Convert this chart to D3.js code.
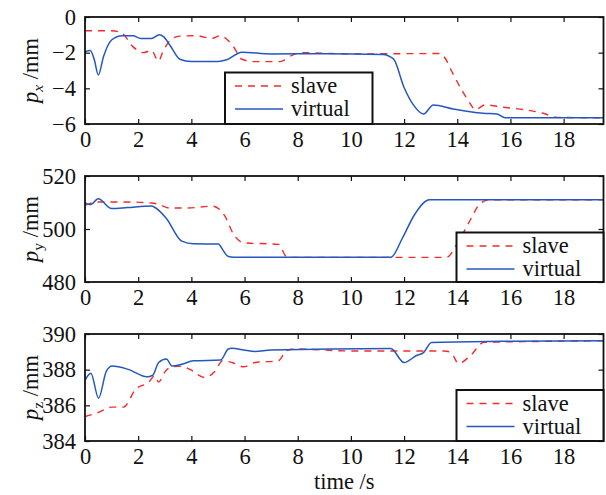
<!DOCTYPE html>
<html>
<head>
<meta charset="utf-8">
<script src="https://cdn.jsdelivr.net/npm/d3@7/dist/d3.min.js"></script>
</head>
<body style="margin:0;padding:0;background:#fff;">
<svg id="chart" width="606" height="495" font-family="Liberation Serif" style="display:block"></svg>
<script>
// ---------- data ----------
const timeTicks = [0, 2, 4, 6, 8, 10, 12, 14, 16, 18];
const timeDomain = [0, 19.5];

const pxTicks = [0, -2, -4, -6];
const pyTicks = [520, 500, 480];
const pzTicks = [390, 388, 386, 384];

const pxVirtual = [[0,-1.95],[0.2,-1.88],[0.35,-2.4],[0.5,-3.25],[0.7,-2.2],[1.0,-1.29],[1.4,-1.05],[1.8,-1.05],[2.1,-1.2],[2.5,-1.2],[2.8,-1.0],[2.95,-1.1],[3.2,-1.6],[3.57,-2.37],[4.0,-2.5],[5.0,-2.5],[5.33,-2.4],[5.9,-1.97],[7,-2.07],[9,-2.06],[11.2,-2.1],[11.6,-2.35],[12.0,-3.95],[12.35,-4.93],[12.73,-5.44],[13.1,-4.93],[13.85,-5.16],[14.98,-5.4],[15.49,-5.44],[15.8,-5.65],[19.5,-5.65]];
const pxSlave = [[0,-0.77],[1.0,-0.77],[1.38,-0.9],[1.8,-1.66],[2.2,-2.0],[2.5,-1.87],[2.76,-2.47],[2.95,-1.87],[3.26,-1.24],[3.57,-1.07],[4.2,-1.05],[4.76,-1.2],[5.08,-1.05],[5.58,-1.66],[5.9,-2.37],[6.33,-2.5],[7.33,-2.5],[7.78,-2.15],[8.1,-2.0],[10,-2.07],[13.36,-2.05],[13.54,-2.3],[13.8,-3.07],[14.17,-4.1],[14.48,-4.84],[14.67,-5.2],[15.05,-4.93],[15.74,-5.06],[16.74,-5.25],[17.24,-5.4],[17.75,-5.63],[19.5,-5.65]];

const pyVirtual = [[0,509.8],[0.2,509.2],[0.5,511.4],[1.0,507.7],[1.6,508.1],[2.5,508.7],[2.6,508.3],[3.06,504],[3.64,495.4],[4.08,494.4],[5.02,494.3],[5.17,492.3],[5.39,489.6],[5.6,489.3],[11.5,489.3],[11.94,496.6],[12.38,505.2],[12.96,511.0],[19.5,511.0]];
const pySlave = [[0,508.9],[0.44,510.2],[1.6,510.2],[2.5,509.8],[2.7,509.5],[3.2,507.9],[3.79,507.9],[4.8,508.6],[5.24,505.2],[5.6,497.8],[5.97,494.8],[7.28,494.2],[7.57,489.6],[7.7,489.3],[13.6,489.3],[13.98,494.2],[14.49,503.4],[14.85,509.5],[15.2,511.0],[19.5,511.0]];

const pzVirtual = [[0,387.4],[0.22,387.8],[0.51,386.4],[0.8,387.9],[1.02,388.2],[1.6,388.03],[2.33,387.6],[2.55,387.7],[2.77,388.4],[3.06,388.6],[3.28,388.2],[3.64,388.3],[4.08,388.5],[5.1,388.54],[5.39,389.16],[5.53,389.2],[5.97,389.1],[6.4,389.02],[6.99,389.1],[11.5,389.19],[12.0,388.4],[12.45,388.78],[12.74,388.97],[13.03,389.53],[15.7,389.59],[19.5,389.62]];
const pzSlave = [[0,385.37],[0.5,385.6],[1.0,385.9],[1.45,385.9],[1.9,386.9],[2.4,387.3],[2.62,387.66],[2.77,387.3],[2.99,387.85],[3.28,388.16],[3.64,388.2],[3.93,388.03],[4.51,387.56],[4.88,387.9],[5.17,388.5],[5.53,388.4],[5.97,388.16],[6.4,388.4],[7.28,388.5],[7.57,389.06],[7.86,389.16],[10,389.05],[13.5,389.05],[13.76,388.97],[14.05,388.35],[14.49,388.78],[15.0,389.53],[17,389.58],[19.5,389.62]];

const legendLabels = ["slave", "virtual"];

// ---------- layout ----------
const FONT = "Liberation Serif";
const svg = d3.select("#chart");
const left = 85, right = 603.5;
const x = d3.scaleLinear().domain(timeDomain).range([left, right]);
const fontSize = 22.5;
const subSize = 15.5;
const red = "#f52a2a", blue = "#2458c0";

const panels = [
  {top:17, bottom:124, domain:[-6,0], ticks:pxTicks, slave:pxSlave, virtual:pxVirtual, sub:"x", subItalic:true,
   legend:{x0:225, y0:72.5, x1:372.5, y1:124}},
  {top:176, bottom:282, domain:[480,520], ticks:pyTicks, slave:pySlave, virtual:pyVirtual, sub:"y", subItalic:false,
   legend:{x0:456.5, y0:232.5, x1:603.5, y1:282}},
  {top:334, bottom:441, domain:[384,390], ticks:pzTicks, slave:pzSlave, virtual:pzVirtual, sub:"z", subItalic:false,
   legend:{x0:456.5, y0:390, x1:603.5, y1:441}}
];

panels.forEach((p, i) => {
  const y = d3.scaleLinear().domain(p.domain).range([p.bottom, p.top]);
  const g = svg.append("g");
  const clipId = "clip" + i;
  svg.append("clipPath").attr("id", clipId).append("rect")
    .attr("x", left).attr("y", p.top).attr("width", right - left).attr("height", p.bottom - p.top);

  const line = d3.line().x(d => x(d[0])).y(d => y(d[1])).curve(d3.curveMonotoneX);
  g.append("path").datum(p.slave).attr("d", line).attr("clip-path", `url(#${clipId})`)
    .attr("fill", "none").attr("stroke", red).attr("stroke-width", 1.4).attr("stroke-dasharray", "7,6");
  g.append("path").datum(p.virtual).attr("d", line).attr("clip-path", `url(#${clipId})`)
    .attr("fill", "none").attr("stroke", blue).attr("stroke-width", 1.5);

  const axB = d3.axisBottom(x).tickValues(timeTicks).tickSize(-5).tickPadding(9).tickFormat(d3.format("d"));
  const axT = d3.axisTop(x).tickValues(timeTicks).tickSize(-5).tickFormat("");
  const axL = d3.axisLeft(y).tickValues(p.ticks).tickSize(-5).tickPadding(9).tickFormat(d => d < 0 ? "\u2212" + Math.abs(d) : d);
  const axR = d3.axisRight(y).tickValues(p.ticks).tickSize(-5).tickFormat("");

  const gb = g.append("g").attr("transform", `translate(0,${p.bottom})`).call(axB);
  const gt = g.append("g").attr("transform", `translate(0,${p.top})`).call(axT);
  const gl = g.append("g").attr("transform", `translate(${left},0)`).call(axL);
  const gr = g.append("g").attr("transform", `translate(${right},0)`).call(axR);
  [gb, gt, gl, gr].forEach(a => {
    a.attr("font-family", FONT).attr("font-size", fontSize);
    a.select(".domain").remove();
    a.selectAll("line").attr("stroke", "#111").attr("stroke-width", 1.2);
    a.selectAll("text").attr("font-family", FONT).attr("font-size", fontSize).attr("fill", "#111");
  });
  gb.selectAll("text").attr("dy", "0.6em");

  g.append("rect").attr("x", left).attr("y", p.top).attr("width", right - left).attr("height", p.bottom - p.top)
    .attr("fill", "none").attr("stroke", "#111").attr("stroke-width", 1.8);

  const cy = (p.top + p.bottom) / 2;
  const yl = g.append("text").attr("transform", `translate(38,${cy}) rotate(-90)`)
    .attr("text-anchor", "middle").attr("font-family", FONT).attr("font-size", fontSize).attr("fill", "#111");
  yl.append("tspan").attr("font-style", "italic").text("p");
  yl.append("tspan").attr("font-style", p.subItalic ? "italic" : "normal").attr("font-size", subSize).attr("dy", 5).text(p.sub);
  yl.append("tspan").attr("dy", -5).text(" /mm");

  const L = p.legend;
  const lg = g.append("g");
  lg.append("rect").attr("x", L.x0).attr("y", L.y0).attr("width", L.x1 - L.x0).attr("height", L.y1 - L.y0)
    .attr("fill", "#fff").attr("stroke", "#111").attr("stroke-width", 2);
  const rows = [{lab: legendLabels[0], c: red, dash: "7,6"}, {lab: legendLabels[1], c: blue, dash: null}];
  rows.forEach((r, k) => {
    const ly = L.y0 + 13.5 + k * 23;
    lg.append("line").attr("x1", L.x0 + 10).attr("x2", L.x0 + 58).attr("y1", ly).attr("y2", ly)
      .attr("stroke", r.c).attr("stroke-width", 1.5).attr("stroke-dasharray", r.dash);
    lg.append("text").attr("x", L.x0 + 66).attr("y", ly).attr("dy", "0.32em").attr("font-family", FONT)
      .attr("font-size", fontSize).attr("fill", "#111").text(r.lab);
  });
});

svg.append("text").attr("x", (left + right) / 2).attr("y", 489).attr("text-anchor", "middle")
  .attr("font-family", FONT).attr("font-size", fontSize).attr("fill", "#111").text("time /s");
</script>
</body>
</html>
